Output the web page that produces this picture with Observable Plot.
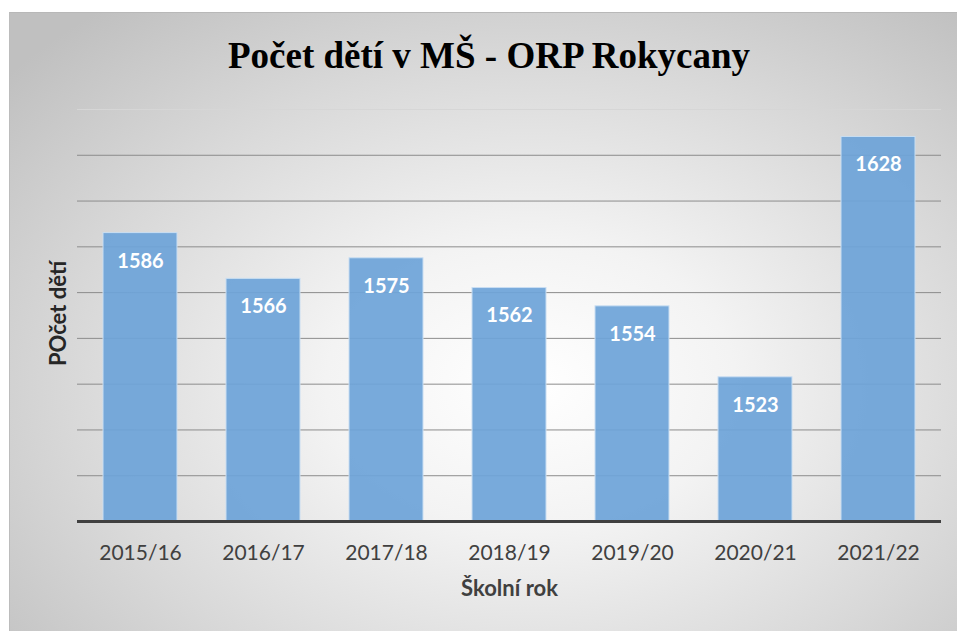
<!DOCTYPE html>
<html>
<head>
<meta charset="utf-8">
<script src="https://cdn.jsdelivr.net/npm/d3@7"></script>
<script src="https://cdn.jsdelivr.net/npm/@observablehq/plot@0.6"></script>
<style>
  html, body { margin: 0; padding: 0; background: #ffffff; }
  #frame {
    position: absolute; left: 9px; top: 12px; width: 948px; height: 619px;
    box-sizing: border-box;
    border-top: 1px solid #b8b8b8; border-left: 1px solid #bcbcbc;
    background: radial-gradient(ellipse 72% 78% at 55% 60%, #ffffff 0%, #f3f3f3 30%, #d8d8d8 68%, #c0c0c0 100%);
    overflow: hidden;
  }
  #title {
    position: absolute; left: 0; top: 24px; width: 948px; padding-left: 10px; box-sizing: border-box;
    text-align: center; font-family: "Liberation Serif", "Times New Roman", serif;
    font-weight: bold; font-size: 37px; line-height: 37px; color: #000;
  }
  #chart { position: absolute; left: 0; top: 80px; }
</style>
</head>
<body>
<div id="frame">
  <div id="title">Počet dětí v MŠ - ORP Rokycany</div>
  <div id="chart"></div>
</div>
<script>
const years = ["2015/16", "2016/17", "2017/18", "2018/19", "2019/20", "2020/21", "2021/22"];
const counts = [1586, 1566, 1575, 1562, 1554, 1523, 1628];
const yDomain = [1460, 1640];
const gridTicks = [1480, 1500, 1520, 1540, 1560, 1580, 1600, 1620];
const topTick = [1640];
const xTitle = "Školní rok";
const yTitle = "POčet dětí";

const data = years.map((y, i) => ({year: y, count: counts[i]}));
const font = "Lato, 'Open Sans', sans-serif";

const plot = Plot.plot({
  width: 947,
  height: 538,
  marginLeft: 67,
  marginRight: 16,
  marginTop: 16,
  marginBottom: 110,
  style: {background: "transparent", fontFamily: font, overflow: "visible"},
  x: {domain: years, paddingInner: 0.4, paddingOuter: 0.2, label: null},
  y: {domain: yDomain, axis: null},
  marks: [
    Plot.ruleY(gridTicks, {stroke: "#8c8c8c", strokeWidth: 1}),
    Plot.ruleY(topTick, {stroke: "#d6d6d6", strokeWidth: 1}),
    Plot.barY(data, {x: "year", y1: yDomain[0], y2: "count", fill: "#6ea4d8", fillOpacity: 0.93, stroke: "#c9def2", strokeWidth: 1}),
    Plot.ruleY([yDomain[0]], {stroke: "#404040", strokeWidth: 3}),
    Plot.text(data, {x: "year", y: "count", text: d => String(d.count), dy: 28, fill: "#ffffff", fontWeight: "bold", fontSize: 20}),
    Plot.axisX({tickSize: 0, tickPadding: 24, fontSize: 21, fill: "#404040", label: null}),
    Plot.text([xTitle], {frameAnchor: "bottom", dy: 74, fontWeight: "bold", fontSize: 22, fill: "#404040"}),
    Plot.text([yTitle], {frameAnchor: "left", textAnchor: "middle", rotate: -90, dx: -19, dy: -2, fontWeight: "bold", fontSize: 22, fill: "#262626"})
  ]
});
document.getElementById("chart").appendChild(plot);
</script>
</body>
</html>
